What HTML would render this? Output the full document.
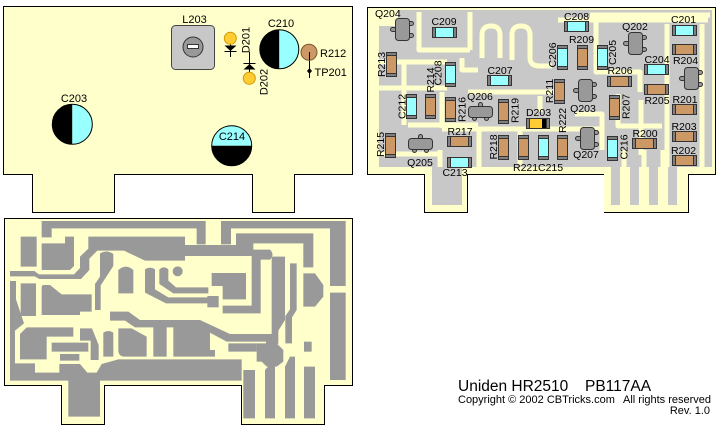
<!DOCTYPE html>
<html><head><meta charset="utf-8"><style>
html,body{margin:0;padding:0;background:#fff;}
svg{display:block;}
text{font-family:"Liberation Sans",Arial,sans-serif;fill:#000;}
</style></head><body>
<svg width="726" height="434" viewBox="0 0 726 434" xmlns="http://www.w3.org/2000/svg">
<defs>
<g id="hr"><rect x="0.5" y="0.5" width="24" height="10" fill="#808080" stroke="#333"/><rect x="3.5" y="0.5" width="18" height="10" fill="#CC9966" stroke="#333"/></g>
<g id="hc"><rect x="0.5" y="0.5" width="24" height="10" fill="#808080" stroke="#333"/><rect x="3.5" y="0.5" width="18" height="10" fill="#99FFFF" stroke="#333"/></g>
<g id="vr"><rect x="0.5" y="0.5" width="10" height="24" fill="#808080" stroke="#333"/><rect x="0.5" y="3.5" width="10" height="18" fill="#CC9966" stroke="#333"/></g>
<g id="vc"><rect x="0.5" y="0.5" width="10" height="24" fill="#808080" stroke="#333"/><rect x="0.5" y="3.5" width="10" height="18" fill="#99FFFF" stroke="#333"/></g>
<g id="qv"><rect x="-4.5" y="9.5" width="6" height="4" rx="2" fill="#999" stroke="#333"/><rect x="12.5" y="3.5" width="6" height="4" rx="2" fill="#999" stroke="#333"/><rect x="12.5" y="15.5" width="6" height="4" rx="2" fill="#999" stroke="#333"/><rect x="0.5" y="0.5" width="14" height="22" rx="3" fill="#999" stroke="#333"/></g>
<g id="qh"><rect x="10.5" y="-3.5" width="4" height="6" rx="2" fill="#999" stroke="#333"/><rect x="4.5" y="8.5" width="4" height="6" rx="2" fill="#999" stroke="#333"/><rect x="16.5" y="8.5" width="4" height="6" rx="2" fill="#999" stroke="#333"/><rect x="0.5" y="0.5" width="24" height="11" rx="3" fill="#999" stroke="#333"/></g>
</defs>
<rect width="726" height="434" fill="#fff"/>

<!-- ============ TOP-LEFT BOARD ============ -->
<path d="M3.5,6.5 H352.5 V174.5 H294.5 V212.5 H252.5 V174.5 H114.5 V212.5 H32.5 V174.5 H3.5 Z" fill="#FFFFCC" stroke="#000"/>
<rect x="171.5" y="25.5" width="43" height="44" rx="4" fill="#C8C8C8" stroke="#444"/>
<circle cx="193" cy="47" r="10" fill="#999" stroke="#333"/>
<rect x="187.5" y="44.5" width="11" height="4" fill="#fff" stroke="#333"/>
<text x="194.5" y="23" font-size="11" text-anchor="middle">L203</text>
<!-- D201 -->
<line x1="230.5" y1="38" x2="230.5" y2="57" stroke="#000"/>
<polygon points="224.5,45.5 236.5,45.5 230.5,51" fill="#000"/>
<line x1="224.5" y1="51.5" x2="236.5" y2="51.5" stroke="#000"/>
<circle cx="230.3" cy="38.3" r="6" fill="#FFCC33" stroke="#CC9900"/>
<text transform="translate(245.5,40) rotate(-90)" font-size="11" text-anchor="middle" dy="4">D201</text>
<!-- D202 -->
<line x1="249.5" y1="52" x2="249.5" y2="78" stroke="#000"/>
<polygon points="243.5,69.5 255.5,69.5 249.5,64" fill="#000"/>
<line x1="243.5" y1="63.5" x2="255.5" y2="63.5" stroke="#000"/>
<circle cx="249.3" cy="78.3" r="6" fill="#FFCC33" stroke="#CC9900"/>
<text transform="translate(263.5,82) rotate(-90)" font-size="11" text-anchor="middle" dy="4">D202</text>
<!-- C210 -->
<path d="M279.3,29.8 A19.5,19.5 0 0 0 279.3,68.8 Z" fill="#000"/>
<path d="M279.3,29.8 A19.5,19.5 0 0 1 279.3,68.8 Z" fill="#99FFFF"/>
<circle cx="279.3" cy="49.3" r="19.5" fill="none" stroke="#000"/>
<text x="281" y="27" font-size="11" text-anchor="middle">C210</text>
<!-- R212 / TP201 -->
<line x1="309.5" y1="52" x2="309.5" y2="78" stroke="#000"/>
<circle cx="309" cy="52.3" r="8" fill="#CC9966" stroke="#7a5530"/>
<line x1="309.5" y1="52" x2="309.5" y2="60" stroke="#000"/>
<path d="M309.5,68 L312,71 L309.5,74 L307,71 Z" fill="#000"/>
<text x="320" y="57" font-size="11">R212</text>
<text x="314.5" y="76" font-size="11">TP201</text>
<!-- C203 -->
<path d="M72.3,104.3 A20,20 0 0 0 72.3,144.3 Z" fill="#000"/>
<path d="M72.3,104.3 A20,20 0 0 1 72.3,144.3 Z" fill="#99FFFF"/>
<circle cx="72.3" cy="124.3" r="20" fill="none" stroke="#000"/>
<text x="74" y="102" font-size="11" text-anchor="middle">C203</text>
<!-- C214 -->
<path d="M211.7,145.7 A20,20 0 0 1 251.7,145.7 Z" fill="#99FFFF"/>
<path d="M211.7,145.7 A20,20 0 0 0 251.7,145.7 Z" fill="#000"/>
<circle cx="231.7" cy="145.7" r="20" fill="none" stroke="#000"/>
<text x="232" y="140" font-size="11" text-anchor="middle">C214</text>

<!-- ============ TOP-RIGHT BOARD ============ -->
<path d="M367.5,7.5 H715.5 V174.5 H688.5 V212.5 H604.5 V174.5 H467.5 V212.5 H424.5 V174.5 H367.5 Z" fill="#FFFFCC" stroke="#000"/>
<path d="M398,10 H712 V167 H379 V26 H398 Z" fill="#C8C8C8"/>
<rect x="432" y="160" width="30" height="45" fill="#C8C8C8"/>
<g fill="#C8C8C8">
<rect x="611" y="150" width="9" height="55"/>
<rect x="630" y="150" width="9" height="55"/>
<rect x="649" y="150" width="9" height="55"/>
<rect x="668" y="150" width="9" height="55"/>
</g>
<g fill="none" stroke="#FFFFCC" stroke-width="5" stroke-linejoin="round">
<path d="M419,12 V50 H470"/>
<path d="M379,62 H447"/>
<path d="M379,88 H447"/>
<path d="M404,62 V125"/>
<path d="M470,12 V50"/>
<path d="M482,58 V35 Q482,26 491,26 Q500,26 500,35 V58"/>
<path d="M512,60 V35 Q512,26 521,26 Q530,26 530,35 V58 Q530,66 540,66 H552"/>
<path d="M462,58 V70 H478"/>
<path d="M468,92 H555"/>
<path d="M442,92 V128"/>
<path d="M408,125 H478"/>
<path d="M442,129 H600"/>
<path d="M379,154 H440"/>
<path d="M479,128 V167"/>
<path d="M440,150 V167"/>
<path d="M558,20 H708"/>
<path d="M590,15 H710"/>
<path d="M596,15 V72 H640 V92"/>
<path d="M618,94 V126 H662"/>
<path d="M641,100 V155"/>
<path d="M667,24 V167"/>
<path d="M702,24 V167"/>
<path d="M575,114 H602 V150"/>
<path d="M624,150 V210 M644,150 V210 M663,150 V210"/>
<path d="M540,96 V112"/>
<path d="M520,130 V165"/>
</g>
<rect x="604" y="168" width="6" height="44" fill="#FFFFCC"/>
<rect x="678" y="168" width="10" height="44" fill="#FFFFCC"/>

<!-- components top-right -->
<use href="#qv" x="395" y="18"/>
<text x="375" y="17" font-size="10.5">Q204</text>
<use href="#hc" x="432" y="27"/>
<text x="444" y="25" font-size="10.5" text-anchor="middle">C209</text>
<use href="#vr" x="386" y="52"/>
<text transform="translate(381,64.5) rotate(-90)" font-size="10.5" text-anchor="middle" dy="3.8">R213</text>
<use href="#vc" x="445" y="62"/>
<text transform="translate(430,80) rotate(-90)" font-size="10.5" text-anchor="middle" dy="3.8">R214</text>
<text transform="translate(437.5,73) rotate(-90)" font-size="10.5" text-anchor="middle" dy="3.8">C208</text>
<use href="#hc" x="487" y="75"/>
<text x="500" y="74" font-size="10.5" text-anchor="middle">C207</text>
<use href="#vc" x="406" y="94"/>
<text transform="translate(401.5,106.5) rotate(-90)" font-size="10.5" text-anchor="middle" dy="3.8">C212</text>
<use href="#vr" x="425" y="94"/>
<use href="#vr" x="445" y="97"/>
<text transform="translate(461.5,109.5) rotate(-90)" font-size="10.5" text-anchor="middle" dy="3.8">R216</text>
<use href="#qh" x="468" y="106"/>
<text x="480" y="100" font-size="10.5" text-anchor="middle">Q206</text>
<use href="#vr" x="498" y="99"/>
<text transform="translate(514.5,110.5) rotate(-90)" font-size="10.5" text-anchor="middle" dy="3.8">R219</text>
<rect x="526.5" y="118.5" width="23" height="10" fill="#808080" stroke="#333"/>
<rect x="529.5" y="118.5" width="17" height="10" fill="#FFCC33" stroke="#333"/>
<rect x="542" y="119" width="4" height="9" fill="#000"/>
<text x="538.5" y="116" font-size="10.5" text-anchor="middle">D203</text>
<use href="#vr" x="385" y="133"/>
<text transform="translate(380,144.5) rotate(-90)" font-size="10.5" text-anchor="middle" dy="3.8">R215</text>
<use href="#qh" x="408" y="138"/>
<text x="420" y="166" font-size="10.5" text-anchor="middle">Q205</text>
<use href="#hr" x="447" y="136"/>
<text x="460" y="135" font-size="10.5" text-anchor="middle">R217</text>
<use href="#hc" x="447" y="157"/>
<text x="455" y="176" font-size="10.5" text-anchor="middle">C213</text>
<use href="#vr" x="498" y="135"/>
<text transform="translate(493,147) rotate(-90)" font-size="10.5" text-anchor="middle" dy="3.8">R218</text>
<use href="#vr" x="518" y="135"/>
<text x="513" y="171" font-size="10.5">R221</text>
<use href="#vc" x="538" y="135"/>
<text x="538" y="171" font-size="10.5">C215</text>
<use href="#vr" x="557" y="135"/>
<text transform="translate(562,120.5) rotate(-90)" font-size="10.5" text-anchor="middle" dy="3.8">R222</text>
<use href="#vr" x="554" y="79"/>
<text transform="translate(549,91) rotate(-90)" font-size="10.5" text-anchor="middle" dy="3.8">R211</text>
<use href="#vc" x="557" y="45"/>
<text transform="translate(552,55) rotate(-90)" font-size="10.5" text-anchor="middle" dy="3.8">C206</text>
<use href="#vr" x="577" y="45"/>
<text x="581.5" y="43" font-size="10.5" text-anchor="middle">R209</text>
<use href="#hc" x="564" y="21"/>
<text x="576.5" y="20" font-size="10.5" text-anchor="middle">C208</text>
<use href="#qv" x="578" y="79"/>
<text x="583" y="112" font-size="10.5" text-anchor="middle">Q203</text>
<use href="#qv" x="580" y="127"/>
<text x="586" y="158" font-size="10.5" text-anchor="middle">Q207</text>
<use href="#vc" x="597" y="45"/>
<text transform="translate(612,52.5) rotate(-90)" font-size="10.5" text-anchor="middle" dy="3.8">C205</text>
<use href="#qv" x="628" y="32"/>
<text x="635" y="30" font-size="10.5" text-anchor="middle">Q202</text>
<use href="#hc" x="672" y="25"/>
<text x="683.5" y="23" font-size="10.5" text-anchor="middle">C201</text>
<use href="#hr" x="672" y="44"/>
<use href="#hc" x="644" y="64"/>
<text x="657" y="63" font-size="10.5" text-anchor="middle">C204</text>
<text x="685.5" y="64" font-size="10.5" text-anchor="middle">R204</text>
<use href="#qv" x="684" y="67"/>
<use href="#hr" x="607" y="76"/>
<text x="620" y="74" font-size="10.5" text-anchor="middle">R206</text>
<use href="#hr" x="644" y="84"/>
<text x="657" y="104" font-size="10.5" text-anchor="middle">R205</text>
<use href="#hr" x="672" y="104"/>
<text x="685" y="103" font-size="10.5" text-anchor="middle">R201</text>
<use href="#vr" x="609" y="95"/>
<text transform="translate(625.5,106.5) rotate(-90)" font-size="10.5" text-anchor="middle" dy="3.8">R207</text>
<use href="#hr" x="672" y="131"/>
<text x="684" y="130" font-size="10.5" text-anchor="middle">R203</text>
<use href="#hr" x="632" y="138"/>
<text x="645" y="137" font-size="10.5" text-anchor="middle">R200</text>
<use href="#vc" x="607" y="136"/>
<text transform="translate(623.5,147) rotate(-90)" font-size="10.5" text-anchor="middle" dy="3.8">C216</text>
<use href="#hr" x="672" y="155"/>
<text x="683.5" y="154" font-size="10.5" text-anchor="middle">R202</text>

<!-- ============ BOTTOM BOARD (copper side) ============ -->
<path d="M4.5,218.5 H352.5 V385.5 H324.5 V424.5 H241.5 V385.5 H104.5 V424.5 H61.5 V385.5 H4.5 Z" fill="#FFFFCC" stroke="#000"/>
<g transform="translate(0,210) scale(0.333333)" fill="#999999">
<path d="M125,33 H617 V103 H590 V55 H155 V82 H125 Z"/>
<path d="M663,33 H1037 V228 H990 V55 H693 V103 H663 Z"/>
<path d="M62,80 H110 V170 H62 Z"/>
<path d="M125,100 H195 V80 H222 V168 L210,180 H125 Z"/>
<path d="M265,80 H555 V105 H708 V70 H940 V172 H910 V100 H760 V138 H555 V152 H435 L372,122 H292 L268,146 V180 L243,207 H118 L104,199 H30 V183 H103 L117,193 H222 L240,174 V140 L265,116 Z"/>
<path d="M30,213 H48 V268 L72,340 L45,362 V460 H105 V488 H178 V462 H240 L262,488 H290 L305,462 L355,448 H725 V512 H300 V620 H205 V512 H30 Z"/>
<path d="M62,220 H108 V318 H62 Z"/>
<path d="M125,232 Q125,225 132,225 H150 L185,253 H275 V305 H240 V315 H125 Z"/>
<path d="M80,352 H220 V380 H140 V448 H60 V372 Z"/>
<path d="M155,398 H265 V425 H155 Z"/>
<path d="M180,432 H238 V452 H180 Z"/>
<path d="M240,355 H276 L296,405 V450 H272 V392 H240 Z"/>
<path d="M310,368 Q325,358 340,368 V440 H310 Z"/>
<path d="M355,355 H395 L440,380 V440 H375 Q355,440 355,420 Z"/>
<path d="M460,345 H500 V440 H460 Z"/>
<path d="M520,345 H605 L630,362 V420 H645 V440 H520 Z"/>
<path d="M330,305 H385 L420,330 H600 L690,372 H830 V395 H680 L600,352 H405 L375,332 H330 Z"/>
<path d="M300,130 Q320,118 340,132 V168 L302,226 V300 H285 V222 L300,200 Z"/>
<path d="M355,180 Q378,160 400,180 V250 H355 Z"/>
<path d="M435,178 Q450,168 465,178 V238 L505,262 H625 V280 H498 L435,248 Z"/>
<path d="M478,178 Q492,166 505,178 V212 L528,232 H625 V250 H520 L478,222 Z"/>
<circle cx="533" cy="184" r="15"/>
<path d="M635,189 H738 V268 H668 V228 H635 Z"/>
<path d="M622,258 H656 V292 H622 Z"/>
<path d="M755,119 H810 Q825,134 810,149 H782 V310 H668 V287 H755 Z"/>
<path d="M815,140 H855 V330 L835,362 V400 L820,418 H798 V395 L815,372 Z"/>
<path d="M870,160 H890 V300 L876,322 V400 H856 V318 L870,298 Z"/>
<path d="M910,190 H945 L970,225 V260 L945,290 H910 Z"/>
<path d="M990,248 H1037 V510 H990 Z"/>
<path d="M685,400 H770 V425 H685 Z"/>
<path d="M730,480 H765 V625 H730 Z"/>
<path d="M795,480 L815,458 H825 V625 H795 Z"/>
<path d="M855,470 L870,440 H885 V625 H855 Z"/>
<path d="M912,470 H945 V625 H912 Z"/>
<path d="M912,395 H935 V425 H912 Z"/>
<path d="M770,400 H830 L850,420 V455 L830,470 H800 L785,455 H770 Z"/>
</g>

<!-- ============ TITLE TEXT ============ -->
<text x="458" y="391" font-size="15.5">Uniden HR2510</text>
<text x="585" y="391" font-size="15.5">PB117AA</text>
<text x="458" y="403" font-size="11">Copyright © 2002 CBTricks.com</text>
<text x="623" y="403" font-size="11">All rights reserved</text>
<text x="710" y="414" font-size="11" text-anchor="end">Rev. 1.0</text>
</svg>
</body></html>
